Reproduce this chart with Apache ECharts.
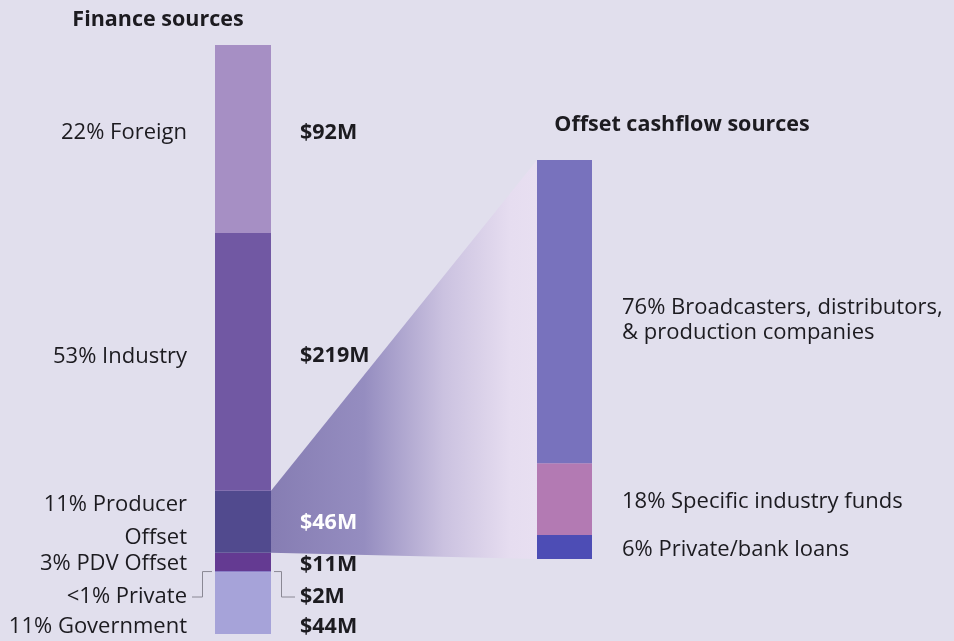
<!DOCTYPE html>
<html><head><meta charset="utf-8">
<script src="https://cdn.jsdelivr.net/npm/echarts@6/dist/echarts.min.js"></script>
<style>html,body{margin:0;padding:0;background:#e1dfed;}#c{width:954px;height:641px;}</style>
</head><body><div id="c"></div>
<script>
// ---- data (top to bottom) ----
const financeNames = ['Foreign', 'Industry', 'Producer Offset', 'PDV Offset', 'Private', 'Government'];
const financeLabels = ['22% Foreign', '53% Industry', '11% Producer\nOffset', '3% PDV Offset', '<1% Private', '11% Government'];
const financeAmounts = ['$92M', '$219M', '$46M', '$11M', '$2M', '$44M'];
// drawn segment heights (share of bar height, %)
const financeBarShare = [31.9, 43.8, 10.5, 3.1, 0.2, 10.5];
const offsetNames = ['Broadcasters', 'Specific industry funds', 'Private/bank loans'];
const offsetLabels = ['76% Broadcasters, distributors,\n& production companies', '18% Specific industry funds', '6% Private/bank loans'];
const offsetValues = [76, 18, 6];
const titles = ['Finance sources', 'Offset cashflow sources'];

// ---- styles ----
const financeColors = ['#a68fc4', '#7158a3', '#514a8e', '#643a92', '#8a7fc8', '#a6a3d9'];
const offsetColors = ['#7872bd', '#b37ab3', '#4d4db5'];
const FONT = '"Open Sans"';
const TXT = '#1c1b20';

const chart = echarts.init(document.getElementById('c'), null, {renderer: 'canvas'});
const series = [];
for (let i = financeNames.length - 1; i >= 0; i--) {
  series.push({type: 'bar', name: financeNames[i], stack: 'L', xAxisIndex: 0, yAxisIndex: 0,
    barWidth: '100%', data: [financeBarShare[i]], itemStyle: {color: financeColors[i]}, silent: true, z: 3});
}
for (let i = offsetNames.length - 1; i >= 0; i--) {
  series.push({type: 'bar', name: offsetNames[i], stack: 'R', xAxisIndex: 1, yAxisIndex: 1,
    barWidth: '100%', data: [offsetValues[i]], itemStyle: {color: offsetColors[i]}, silent: true, z: 3});
}
const sumF = financeBarShare.reduce((a, b) => a + b, 0);
const sumO = offsetValues.reduce((a, b) => a + b, 0);
chart.setOption({
  backgroundColor: '#e1dfed',
  animation: false,
  grid: [
    {left: 215, top: 45, width: 56, height: 589},
    {left: 537, top: 160, width: 55, height: 399}
  ],
  xAxis: [
    {type: 'category', data: ['F'], gridIndex: 0, show: false},
    {type: 'category', data: ['O'], gridIndex: 1, show: false}
  ],
  yAxis: [
    {type: 'value', gridIndex: 0, min: 0, max: sumF, show: false},
    {type: 'value', gridIndex: 1, min: 0, max: sumO, show: false}
  ],
  series: series
});

function cumBelow(arr, idx) { // sum of segments below index idx (top-to-bottom order)
  let s = 0; for (let j = idx + 1; j < arr.length; j++) s += arr[j]; return s;
}
const pi = financeNames.indexOf('Producer Offset');
const yTopL = chart.convertToPixel({xAxisIndex: 0, yAxisIndex: 0}, [0, cumBelow(financeBarShare, pi) + financeBarShare[pi]])[1];
const yBotL = chart.convertToPixel({xAxisIndex: 0, yAxisIndex: 0}, [0, cumBelow(financeBarShare, pi)])[1];
const yTopR = chart.convertToPixel({xAxisIndex: 1, yAxisIndex: 1}, [0, sumO])[1];
const yBotR = chart.convertToPixel({xAxisIndex: 1, yAxisIndex: 1}, [0, 0])[1];
const xL = 271, xR = 537;

const graphics = [];
graphics.push({type: 'polygon', z: 1, silent: true,
  shape: {points: [[xL, yTopL], [xR, yTopR], [xR, yBotR], [xL, yBotL]]},
  style: {fill: new echarts.graphic.LinearGradient(0, 0, 1, 0, [
    {offset: 0, color: '#867db3'}, {offset: 0.35, color: '#958dc0'},
    {offset: 0.65, color: '#cbc2e0'}, {offset: 0.9, color: '#e6ddf0'}, {offset: 1, color: '#e8dff1'}])}});

function txt(x, y, text, opts) {
  graphics.push({type: 'text', x: x, y: y, z: 10, silent: true,
    style: Object.assign({text: text, fontFamily: FONT, fontSize: 22, fill: TXT,
      verticalAlign: 'middle', textAlign: 'left', lineHeight: 33}, opts || {})});
}
// titles
txt(158, 20, titles[0], {textAlign: 'center', fontWeight: 'bold', fontSize: 21.5});
txt(682, 125, titles[1], {textAlign: 'center', fontWeight: 'bold', fontSize: 21.5});
// left labels
const leftY = [133, 357, 521, 564, 597, 627];
const amtY = [133, 356, 523, 565, 597, 627];
financeLabels.forEach((t, i) => {
  txt(187, leftY[i], t, {textAlign: 'right'});
  txt(300, amtY[i], financeAmounts[i], {fontWeight: 'bold', fontSize: 21.5, fill: financeNames[i] === 'Producer Offset' ? '#ffffff' : TXT});
});
// right labels
const rightY = [320, 502, 550];
offsetLabels.forEach((t, i) => txt(622, rightY[i], t, {lineHeight: 25}));
// leader lines for Private
const priv = financeNames.indexOf('Private');
const yPriv = chart.convertToPixel({xAxisIndex: 0, yAxisIndex: 0}, [0, cumBelow(financeBarShare, priv) + financeBarShare[priv] / 2])[1];
graphics.push({type: 'polyline', z: 5, silent: true, shape: {points: [[192, 597], [202.5, 597], [202.5, yPriv], [212, yPriv]]},
  style: {stroke: '#8a8894', lineWidth: 1, fill: null}});
graphics.push({type: 'polyline', z: 5, silent: true, shape: {points: [[274, yPriv], [281.5, yPriv], [281.5, 597], [295, 597]]},
  style: {stroke: '#8a8894', lineWidth: 1, fill: null}});
chart.setOption({graphic: graphics});
</script></body></html>
